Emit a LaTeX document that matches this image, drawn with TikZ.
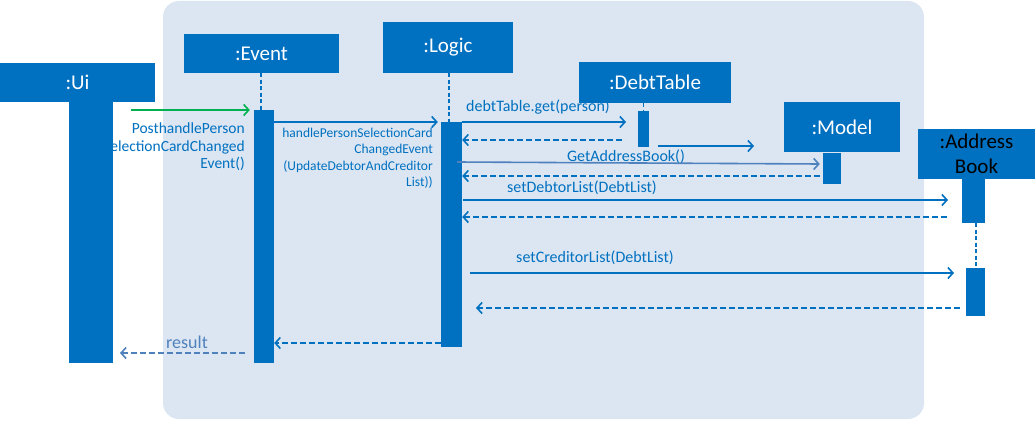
\documentclass[tikz,border=0pt]{standalone}
\usepackage{fontspec}
\setmainfont{Carlito}
\usetikzlibrary{arrows.meta}
\definecolor{boxblue}{RGB}{0,112,192}
\definecolor{paleblue}{RGB}{220,230,242}
\definecolor{softblue}{RGB}{79,129,189}
\definecolor{postgreen}{RGB}{0,176,80}
\tikzset{
	box/.style={fill=boxblue,text=white,inner sep=0,align=center,font=\fontsize{21}{25}\selectfont},
	bar/.style={fill=boxblue,inner sep=0},
	life/.style={draw=boxblue,line width=1.6pt,dash pattern=on 4pt off 2.5pt},
	call/.style={draw=boxblue,line width=1.6pt,-{Straight Barb[length=5pt,width=11pt]}},
	ret/.style={call,dash pattern=on 6pt off 3pt},
	lbl/.style={text=boxblue,inner sep=0,font=\fontsize{16}{18}\selectfont}
}

\begin{document}
\begin{tikzpicture}[x=1pt,y=-1pt]
	\useasboundingbox (0,0) rectangle (1035,420);
	\fill[paleblue,rounded corners=16pt] (163,1) rectangle (924,419);
	
	\node[box,minimum width=155,minimum height=39] (ui) at (77.5,82.5) {:Ui};
	\node[box,minimum width=155,minimum height=39] (event) at (261.5,53.5) {:Event};
	\node[box,minimum width=130,minimum height=51] (logic) at (448,47.5) {:Logic};
	\node[box,minimum width=152,minimum height=41] (debt) at (655,82.5) {:DebtTable};
	\node[box,text=black,minimum width=117,minimum height=50] (book) at (976.5,154) {:Address\\Book};
	\node[box,minimum width=116,minimum height=50] (model) at (842,127) {:Model};
	
	% message labels (the Ui bar hides part of the first one)
	\node[lbl,align=right,anchor=north east,font=\fontsize{15.5}{17.5}\selectfont] (lpost) at (245,123) {PosthandlePerson\\SelectionCardChanged\\Event()};
	\node[lbl,align=right,anchor=north east,font=\fontsize{13.5}{16.3}\selectfont] (lhandle) at (433,128) {handlePersonSelectionCard\\ChangedEvent\\(UpdateDebtorAndCreditor\\List))};
	\node[lbl,anchor=west] (lget) at (466,107) {debtTable.get(person)};
	\node[lbl] (lbook) at (626,157) {GetAddressBook()};
	\node[lbl] (ldebtor) at (582,188) {setDebtorList(DebtList)};
	\node[lbl] (lcreditor) at (595,258) {setCreditorList(DebtList)};
	\node[lbl,text=softblue,font=\fontsize{18}{20}\selectfont] (lresult) at (187,342) {result};
	
	\node[bar,minimum width=44,minimum height=261] (uibar) at (91,232.5) {};
	\node[bar,minimum width=20,minimum height=253] (evbar) at (264,236.5) {};
	\node[bar,minimum width=21,minimum height=225] (lgbar) at (451.5,234.5) {};
	\node[bar,minimum width=11,minimum height=36] (dtbar) at (643.5,129) {};
	\node[bar,minimum width=18,minimum height=31] (mdbar) at (832,168.5) {};
	\node[bar,minimum width=23,minimum height=44] (bkbar) at (973.5,201) {};
	\node[bar,minimum width=19,minimum height=48] (bkbar2) at (975.5,292) {};
	
	\draw[life] (event.south -| 261,0) -- (evbar.north -| 261,0);
	\draw[life] (logic.south -| 449,0) -- (lgbar.north -| 449,0);
	\draw[life] (debt.south -| dtbar.north) -- (dtbar.north);
	\draw[life] (bkbar.south -| 976,0) -- (bkbar2.north -| 976,0);
	
	\node[coordinate] (spost) at (131,110) {};
	\node[coordinate] (eget) at (626,122) {};
	\node[coordinate] (sgetr) at (622,140) {};
	\node[coordinate] (sfree) at (658,146) {};
	\node[coordinate] (efree) at (754,146) {};
	\node[coordinate] (sbook) at (457,162) {};
	\node[coordinate] (sdebtor) at (463,200) {};
	\node[coordinate] (edebtor) at (948,200) {};
	\node[coordinate] (sdebtorr) at (947,217) {};
	\node[coordinate] (screditor) at (470,273) {};
	\node[coordinate] (ecreditor) at (954,273) {};
	\node[coordinate] (screditorr) at (960,308) {};
	\node[coordinate] (ecreditorr) at (476,308) {};
	\node[coordinate] (sresult) at (245,353) {};
	\node[coordinate] (eresult) at (120,353) {};
	
	\draw[call,draw=postgreen] (spost) -- ([xshift=-4pt]evbar.west |- spost);
	\draw[call] (evbar.east |- 0,122) -- ([xshift=-3pt]lgbar.west |- 0,122);
	\draw[call] (lgbar.east |- 0,122) -- (eget);
	\draw[ret] (sgetr) -- (lgbar.east |- sgetr);
	\draw[call] (sfree) -- (efree);
	\draw[call,draw=softblue] (sbook) -- ([xshift=-3pt]mdbar.west |- 0,164);
	\draw[ret] ([xshift=-3pt]mdbar.west |- 0,176) -- (lgbar.east |- 0,176);
	\draw[call] (sdebtor) -- (edebtor);
	\draw[ret] (sdebtorr) -- (lgbar.east |- sdebtorr);
	\draw[call] (screditor) -- (ecreditor);
	\draw[ret] (screditorr) -- (ecreditorr);
	\draw[ret] (lgbar.west |- 0,343) -- (evbar.east |- 0,343);
	\draw[ret,draw=softblue] (sresult) -- (eresult);
\end{tikzpicture}
\end{document}
